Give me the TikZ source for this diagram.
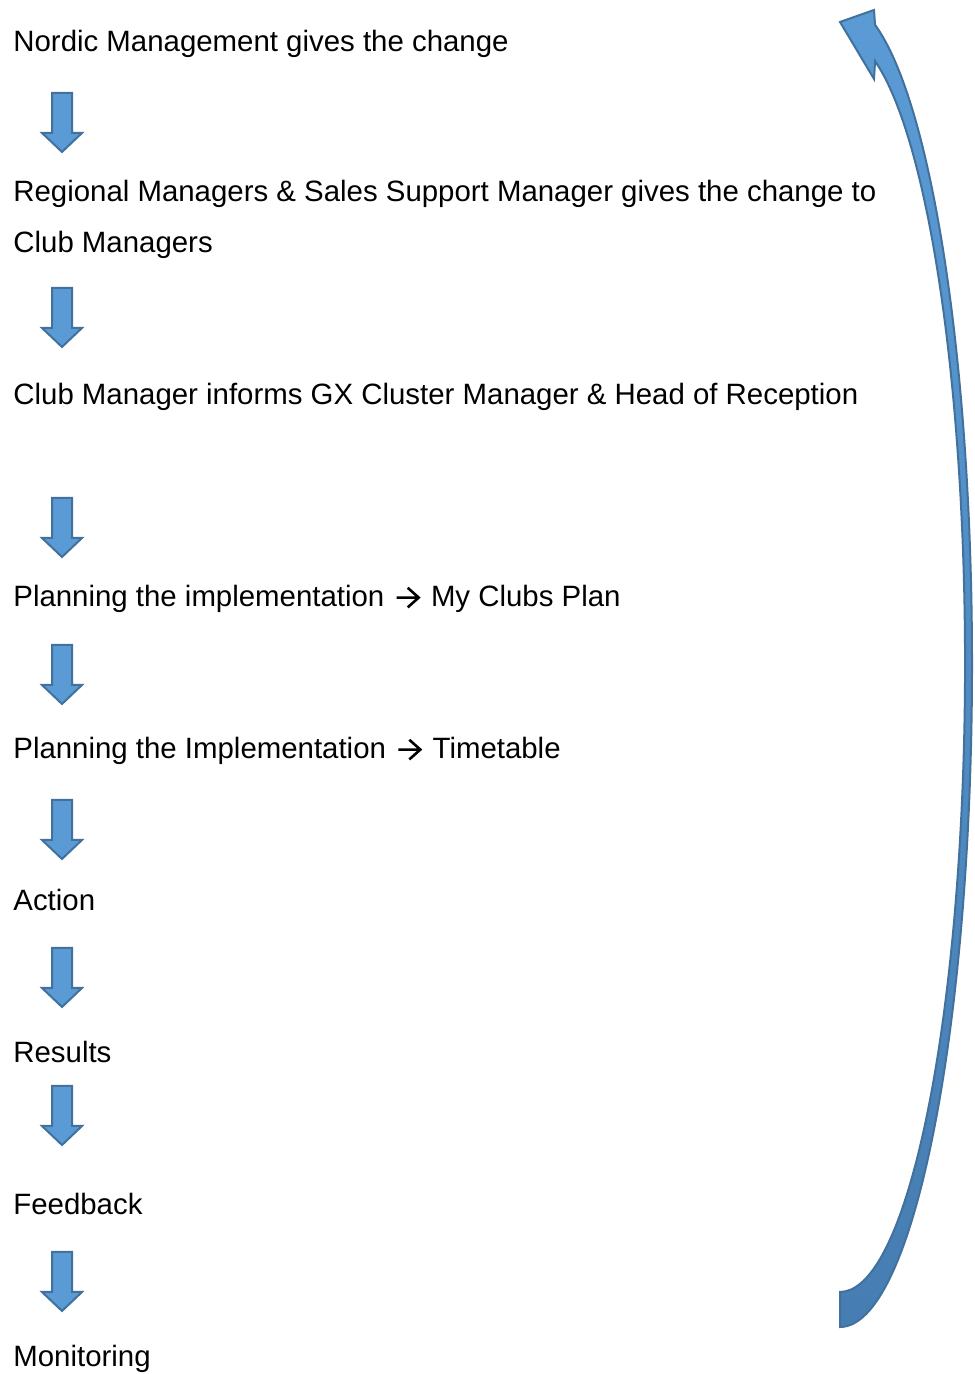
\documentclass[tikz,border=0pt]{standalone}
\usepackage{fontspec}
\setmainfont{Liberation Sans}
\usepackage{tikz}
\usetikzlibrary{positioning, calc}
\definecolor{ArrowFill}{RGB}{91,155,213}
\definecolor{ArrowLine}{RGB}{65,113,156}
\definecolor{ArrowDeep}{RGB}{70,125,178}

% small text arrow, sitting on the baseline
\newcommand{\textarrowhead}{\hspace{5.5pt}\tikz[baseline=0pt, x=1pt, y=1pt]
  \draw[line width=1.3pt, line join=miter] (0,4.7) -- (11,4.7) (5.5,9.6) -- (11,4.7) -- (5.5,-0.2);\hspace{5.5pt}}

\tikzset{
  steptext/.style={anchor=base west, inner sep=0pt, align=left,
    font=\fontsize{14.7}{25.5}\selectfont},
  downblock/.pic={
    \draw[ArrowLine, fill=ArrowFill, line width=1pt, line join=miter]
      (-10,0) -- (10,0) -- (10,-40) -- (20,-40) -- (0,-59) -- (-20,-40) -- (-10,-40) -- cycle;
  }
}

\begin{document}
\begin{tikzpicture}[x=0.5pt, y=0.5pt]
  \useasboundingbox (0,0) rectangle (974,1374);

  % the steps, top to bottom
  \node[steptext] (nordic) at (13,1322) {Nordic Management gives the change};
  \node[steptext] (regional) at (13,1121) {Regional Managers \& Sales Support Manager gives the change to\\Club Managers};
  \node[steptext] (clubmgr) at (13,969) {Club Manager informs GX Cluster Manager \& Head of Reception};
  \node[steptext] (planplan) at (13,767) {Planning the implementation\textarrowhead My Clubs Plan};
  \node[steptext] (plantime) at (13,615) {Planning the Implementation\textarrowhead Timetable};
  \node[steptext] (action) at (13,463) {Action};
  \node[steptext] (results) at (13,311) {Results};
  \node[steptext] (feedback) at (13,159) {Feedback};
  \node[steptext] (monitoring) at (13,7) {Monitoring};

  % block arrows between the steps
  \foreach \ytop in {1281,1086,876,729,574,426,288,122}
    \pic at (62,\ytop) {downblock};

  % curved arrow back to the top
  \draw[top color=ArrowFill, bottom color=ArrowDeep, draw=ArrowLine, line width=1pt, line join=miter]
    (840,47) arc[start angle=-90, end angle=74.6, x radius=132, y radius=663]
    -- (874,1364) -- (840,1352) -- (874,1295) -- (875.1,1312.8)
    arc[start angle=73.7, end angle=-90, x radius=125, y radius=628] -- cycle;
\end{tikzpicture}
\end{document}
